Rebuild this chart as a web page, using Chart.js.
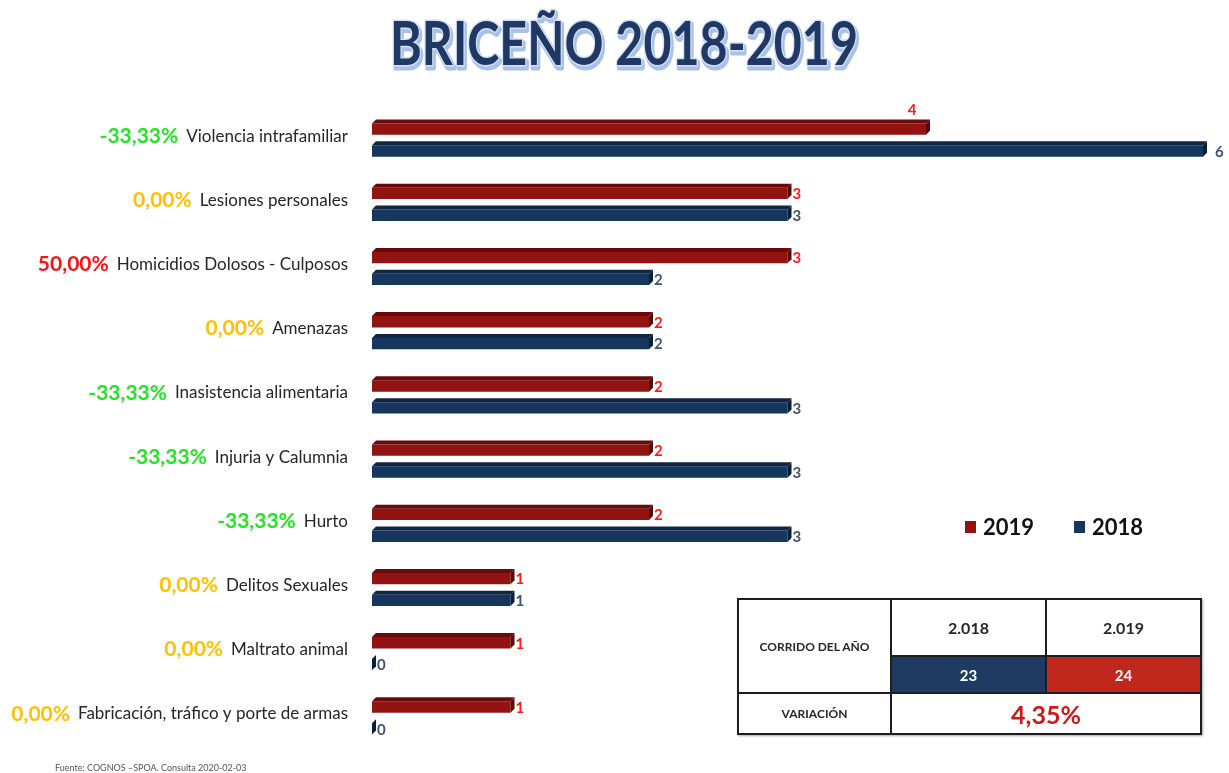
<!DOCTYPE html>
<html lang="es">
<head>
<meta charset="utf-8">
<title>Briceño 2018-2019</title>
<script src="https://cdn.jsdelivr.net/npm/chart.js@4.4.1/dist/chart.umd.min.js"></script>
<style>
  html, body { margin: 0; padding: 0; background: #fff; overflow: hidden; }
  #wrap { position: relative; width: 1229px; height: 773px; }
  #tabla {
    position: absolute; left: 737px; top: 598px;
    border-collapse: collapse; font-family: Lato, sans-serif; font-weight: bold;
    color: #262626; text-align: center;
    box-shadow: 1px 1px 2px rgba(0,0,0,0.35);
  }
  #tabla td { border: 2px solid #1e1e1e; padding: 0; }
  #tabla .lbl { width: 151px; font-size: 12px; }
  #tabla .anio { width: 153px; height: 55px; font-size: 16px; }
  #tabla .v18 { background: #1f3b63; color: #fff; height: 35px; font-size: 15px; }
  #tabla .v19 { background: #c0281e; color: #fff; font-size: 15px; }
  #tabla .var { height: 39px; font-size: 12px; }
  #tabla .pct { color: #d01818; font-size: 25px; }
</style>
</head>
<body>
<div id="wrap">
  <canvas id="grafico"></canvas>
  <table id="tabla">
    <tr><td class="lbl" rowspan="2">CORRIDO DEL AÑO</td><td class="anio">2.018</td><td class="anio">2.019</td></tr>
    <tr><td class="v18">23</td><td class="v19">24</td></tr>
    <tr><td class="lbl var">VARIACIÓN</td><td class="pct" colspan="2">4,35%</td></tr>
  </table>
</div>
<script>
// Datos
const categorias = [
  'Violencia intrafamiliar',
  'Lesiones personales',
  'Homicidios Dolosos - Culposos',
  'Amenazas',
  'Inasistencia alimentaria',
  'Injuria y Calumnia',
  'Hurto',
  'Delitos Sexuales',
  'Maltrato animal',
  'Fabricación, tráfico y porte de armas'
];
const valores2019 = [4, 3, 3, 2, 2, 2, 2, 1, 1, 1];
const valores2018 = [6, 3, 2, 2, 3, 3, 3, 1, 0, 0];
const variaciones = ['-33,33%', '0,00%', '50,00%', '0,00%', '-33,33%', '-33,33%', '-33,33%', '0,00%', '0,00%', '0,00%'];
const etiquetasArriba2019 = [0]; // la etiqueta "4" va encima de la barra
const titulo = 'BRICEÑO 2018-2019';
const fuente = 'Fuente: COGNOS –SPOA. Consulta 2020-02-03';

const PROF = 4; // profundidad del efecto 3D

// Colores de la variación según el signo
function colorVariacion(txt) {
  if (txt.startsWith('-')) return '#22e622';
  if (parseFloat(txt.replace(',', '.')) === 0) return '#ffc000';
  return '#ff1010';
}

// Caras superior y lateral de cada barra (efecto 3D)
const efecto3D = {
  id: 'efecto3D',
  afterDatasetsDraw(chart) {
    const ctx = chart.ctx;
    chart.data.datasets.forEach((ds, i) => {
      chart.getDatasetMeta(i).data.forEach(bar => {
        const p = bar.getProps(['x', 'y', 'base', 'height'], true);
        const top = p.y - p.height / 2, bot = p.y + p.height / 2;
        const x0 = p.base, x1 = p.x;
        ctx.save();
        ctx.fillStyle = ds.colorSuperior;
        ctx.beginPath();
        ctx.moveTo(x0, top);
        ctx.lineTo(x0 + PROF, top - PROF);
        ctx.lineTo(x1 + PROF, top - PROF);
        ctx.lineTo(x1, top);
        ctx.closePath();
        ctx.fill();
        ctx.fillStyle = ds.colorLateral;
        ctx.beginPath();
        ctx.moveTo(x1, top);
        ctx.lineTo(x1 + PROF, top - PROF);
        ctx.lineTo(x1 + PROF, bot - PROF);
        ctx.lineTo(x1, bot);
        ctx.closePath();
        ctx.fill();
        ctx.restore();
      });
    });
  }
};

// Etiquetas de valor en el extremo de las barras
const etiquetas = {
  id: 'etiquetas',
  afterDatasetsDraw(chart) {
    const ctx = chart.ctx;
    ctx.save();
    ctx.font = 'bold 15px Lato';
    chart.data.datasets.forEach((ds, i) => {
      chart.getDatasetMeta(i).data.forEach((bar, j) => {
        const p = bar.getProps(['x', 'y', 'height'], true);
        ctx.fillStyle = ds.colorEtiqueta;
        const txt = String(ds.data[j]);
        if (i === 0 && etiquetasArriba2019.includes(j)) {
          ctx.textAlign = 'center';
          ctx.textBaseline = 'bottom';
          ctx.fillText(txt, p.x - 14, p.y - p.height / 2 - PROF - 2);
        } else {
          ctx.textAlign = 'left';
          ctx.textBaseline = 'middle';
          const extra = ds.data[j] === Math.max(...ds.data) && i === 1 ? 8 : 1;
          ctx.fillText(txt, p.x + PROF + extra, p.y + 1);
        }
      });
    });
    ctx.restore();
  }
};

// Variaciones a la izquierda de cada categoría, título, leyenda y fuente
const decoracion = {
  id: 'decoracion',
  afterDraw(chart) {
    const ctx = chart.ctx;
    const ys = chart.scales.y;
    const opt = ys.options.ticks;
    ctx.save();
    // variaciones
    categorias.forEach((cat, i) => {
      ctx.font = opt.font.size + 'px Lato';
      const ancho = ctx.measureText(cat).width;
      const xr = ys.right - opt.padding - ancho - 8;
      const y = ys.getPixelForTick(i) + opt.labelOffset;
      ctx.font = 'bold 21px Lato';
      ctx.fillStyle = colorVariacion(variaciones[i]);
      ctx.textAlign = 'right';
      ctx.textBaseline = 'middle';
      ctx.fillText(variaciones[i], xr, y);
    });

    // título con sombra azul claro
    ctx.font = 'bold 62px Lato';
    const w = ctx.measureText(titulo).width;
    const esc = 468 / w;
    ctx.translate(624, 65);
    ctx.scale(esc, 1);
    ctx.textAlign = 'center';
    ctx.textBaseline = 'alphabetic';
    ctx.lineJoin = 'round';
    ctx.strokeStyle = '#a9c1e8';
    ctx.lineWidth = 5;
    ctx.strokeText(titulo, 2, 3);
    ctx.fillStyle = '#a9c1e8';
    ctx.fillText(titulo, 2, 3);
    ctx.strokeStyle = '#d4e0f4';
    ctx.lineWidth = 3;
    ctx.strokeText(titulo, 0, 0);
    ctx.fillStyle = '#1f3864';
    ctx.fillText(titulo, 0, 0);
    ctx.setTransform(1, 0, 0, 1, 0, 0);

    // leyenda
    let x = 965;
    ctx.font = 'bold 22px Lato';
    ctx.textAlign = 'left';
    ctx.textBaseline = 'middle';
    chart.data.datasets.forEach(ds => {
      ctx.fillStyle = ds.backgroundColor;
      ctx.fillRect(x, 521, 11, 12);
      ctx.fillStyle = '#111';
      ctx.fillText(ds.label, x + 18, 528);
      x += 18 + ctx.measureText(ds.label).width + 40;
    });

    // fuente
    ctx.font = '9px Lato';
    ctx.fillStyle = '#555';
    ctx.textBaseline = 'alphabetic';
    ctx.fillText(fuente, 55, 771);
    ctx.restore();
  }
};

const data = {
  labels: categorias,
  datasets: [
    {
      label: '2019',
      data: valores2019,
      backgroundColor: '#931212',
      colorSuperior: '#6a0b0b',
      colorLateral: '#5a0909',
      colorEtiqueta: '#ff1a1a'
    },
    {
      label: '2018',
      data: valores2018,
      backgroundColor: '#17365d',
      colorSuperior: '#0f2644',
      colorLateral: '#0b1e37',
      colorEtiqueta: '#3e5170'
    }
  ]
};

new Chart(document.getElementById('grafico'), {
  type: 'bar',
  data,
  options: {
    indexAxis: 'y',
    responsive: true,
    maintainAspectRatio: false,
    animation: false,
    categoryPercentage: 0.68,
    barPercentage: 0.52,
    layout: { padding: { top: 108, right: 26, bottom: 23, left: 0 } },
    plugins: {
      legend: { display: false },
      tooltip: { enabled: false },
      title: { display: false }
    },
    scales: {
      x: { display: false, min: 0, max: 6 },
      y: {
        grid: { display: false, drawTicks: false },
        border: { display: false },
        afterFit: s => { s.width = 372; s.paddingTop = 0; s.paddingBottom = 0; },
        ticks: {
          padding: 24,
          labelOffset: -4,
          color: '#262626',
          font: { family: 'Lato', size: 17 }
        }
      }
    }
  },
  plugins: [efecto3D, etiquetas, decoracion]
});
</script>
</body>
</html>
